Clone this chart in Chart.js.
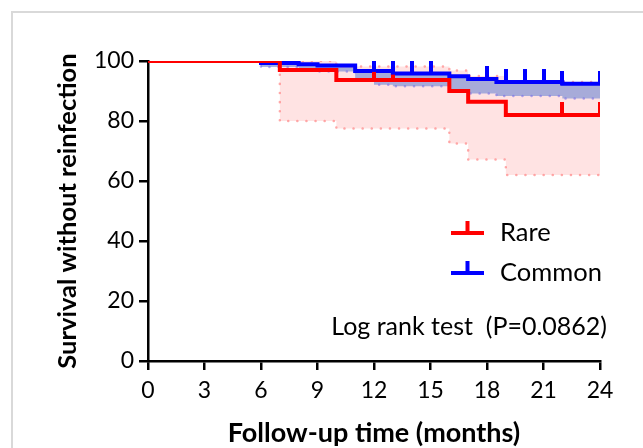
<!DOCTYPE html>
<html>
<head>
<meta charset="utf-8">
<script src="https://cdn.jsdelivr.net/npm/chart.js@4"></script>
<style>
  html, body { margin: 0; padding: 0; background: #fff; overflow: hidden; }
  #frame { position: absolute; left: 11px; top: 11px; width: 640px; height: 445px;
           border-left: 2px solid #d9d9d9; border-top: 2px solid #d9d9d9; }
  #c { position: absolute; left: 0; top: 0; }
</style>
</head>
<body>
<div id="frame"></div>
<canvas id="c" width="643" height="448"></canvas>
<script>
// Kaplan-Meier steps (months, % survival)
const xTicks = [0, 3, 6, 9, 12, 15, 18, 21, 24];
const yTicks = [0, 20, 40, 60, 80, 100];

const rareTimes = [0, 7, 10, 16, 17, 19, 24];
const rareSurv  = [100, 97, 93.7, 90, 86.4, 82, 82];
const rareUpper = [100, 100, 98.2, 96.8, 95, 93, 93];
const rareLower = [100, 80, 77.5, 72.5, 67.2, 62, 62];
const rareCensor = [12, 13, 22, 24];

const commonTimes = [0, 6, 8, 9, 11, 12, 13, 16, 17, 18.5, 22, 24];
const commonSurv  = [100, 99.3, 98.9, 98.5, 96.7, 96.7, 95.8, 94.9, 94.0, 93.0, 92.4, 92.4];
const commonLower = [100, 98, 97, 96.5, 93.5, 92.1, 91.6, 90.0, 89.2, 88.3, 87.5, 87.5];
const commonCensor = [12, 13, 14, 15, 18, 19, 20, 21, 22, 24];

const RED = '#ff0000';
const BLUE = '#0000ff';
const FONT = 'Lato';

const pts = (xs, ys) => xs.map((x, i) => ({ x, y: ys[i] }));
// value of the step function at time t
function survAt(times, surv, t) {
  let v = surv[0];
  for (let i = 0; i < times.length; i++) if (times[i] <= t) v = surv[i];
  return v;
}
// little vertical tick above the curve, used as point style for censored cases
function censorMark(color) {
  const cv = document.createElement('canvas');
  cv.width = 4; cv.height = 26;
  const g = cv.getContext('2d');
  g.fillStyle = color;
  g.fillRect(0, 0, 4, 14);
  return cv;
}

const annotations = {
  id: 'annotations',
  afterDraw(chart) {
    const ctx = chart.ctx;
    ctx.save();
    ctx.lineWidth = 4;
    [[RED, 'Rare', 233], [BLUE, 'Common', 273]].forEach(([c, label, y]) => {
      ctx.strokeStyle = c;
      ctx.beginPath();
      ctx.moveTo(451, y); ctx.lineTo(484, y);
      ctx.moveTo(467.5, y); ctx.lineTo(467.5, y - 12);
      ctx.stroke();
      ctx.fillStyle = '#000';
      ctx.font = `25.5px ${FONT}`;
      ctx.textBaseline = 'middle';
      ctx.fillText(label, 500, y);
    });
    ctx.font = `25px ${FONT}`;
    ctx.textAlign = 'right';
    ctx.fillText('Log rank test  (P=0.0862)', 607, 327);
    ctx.restore();
  }
};

new Chart(document.getElementById('c'), {
  type: 'line',
  data: {
    datasets: [
      {
        type: 'scatter', data: commonCensor.map(t => ({ x: t, y: survAt(commonTimes, commonSurv, t) })),
        pointStyle: censorMark(BLUE), showLine: false,
      },
      {
        type: 'scatter', data: rareCensor.map(t => ({ x: t, y: survAt(rareTimes, rareSurv, t) })),
        pointStyle: censorMark(RED), showLine: false,
      },
      {
        label: 'Rare', data: pts(rareTimes, rareSurv), stepped: true,
        borderColor: RED, borderWidth: 4, pointRadius: 0, fill: false,
      },
      {
        label: 'Common', data: pts(commonTimes, commonSurv), stepped: true,
        borderColor: BLUE, borderWidth: 4, pointRadius: 0, fill: false,
      },
      {
        label: 'Common lower CI', data: pts(commonTimes, commonLower), stepped: true,
        borderColor: 'rgba(120,110,230,0.6)', borderWidth: 2.5, borderDash: [0.1, 9], borderCapStyle: 'round',
        pointRadius: 0, fill: { target: 3 }, backgroundColor: 'rgba(120,140,210,0.65)',
      },
      {
        label: 'Rare upper CI', data: pts(rareTimes, rareUpper), stepped: true,
        borderColor: 'rgba(255,140,140,0.75)', borderWidth: 2.5, borderDash: [0.1, 9], borderCapStyle: 'round',
        pointRadius: 0, fill: '+1', backgroundColor: 'rgba(255,0,0,0.11)',
      },
      {
        label: 'Rare lower CI', data: pts(rareTimes, rareLower), stepped: true,
        borderColor: 'rgba(255,140,140,0.75)', borderWidth: 2.5, borderDash: [0.1, 9], borderCapStyle: 'round',
        pointRadius: 0, fill: false,
      },
    ],
  },
  options: {
    responsive: false,
    animation: false,
    devicePixelRatio: 1,
    layout: { padding: { left: 0, top: 61, right: 43, bottom: 0 } },
    plugins: {
      legend: { display: false },
      tooltip: { enabled: false },
      filler: { drawTime: 'beforeDatasetsDraw' },
    },
    scales: {
      x: {
        type: 'linear', min: 0, max: 24,
        afterBuildTicks: s => { s.ticks = xTicks.map(v => ({ value: v })); },
        afterFit: s => { s.height = 87; },
        grid: { drawOnChartArea: false, drawTicks: true, tickLength: 9, color: '#000', lineWidth: 2.5 },
        border: { display: true, color: '#000', width: 2.5 },
        ticks: { color: '#000', font: { family: FONT, size: 23 }, padding: 7, maxRotation: 0 },
        title: { display: true, text: 'Follow-up time (months)', color: '#000',
                 font: { family: FONT, size: 27, weight: 'bold', lineHeight: 1 }, padding: { top: 0, bottom: 1.5 } },
      },
      y: {
        min: 0, max: 100,
        afterBuildTicks: s => { s.ticks = yTicks.map(v => ({ value: v })); },
        afterFit: s => { s.width = 148; },
        grid: { drawOnChartArea: false, drawTicks: true, tickLength: 9, color: '#000', lineWidth: 2.5 },
        border: { display: true, color: '#000', width: 2.5 },
        ticks: { color: '#000', font: { family: FONT, size: 23 }, padding: 5 },
        title: { display: true, text: 'Survival without reinfection', color: '#000',
                 font: { family: FONT, size: 25.5, weight: 'bold', lineHeight: 1 }, padding: { top: 55, bottom: 0 } },
      },
    },
  },
  plugins: [annotations],
});
</script>
</body>
</html>
